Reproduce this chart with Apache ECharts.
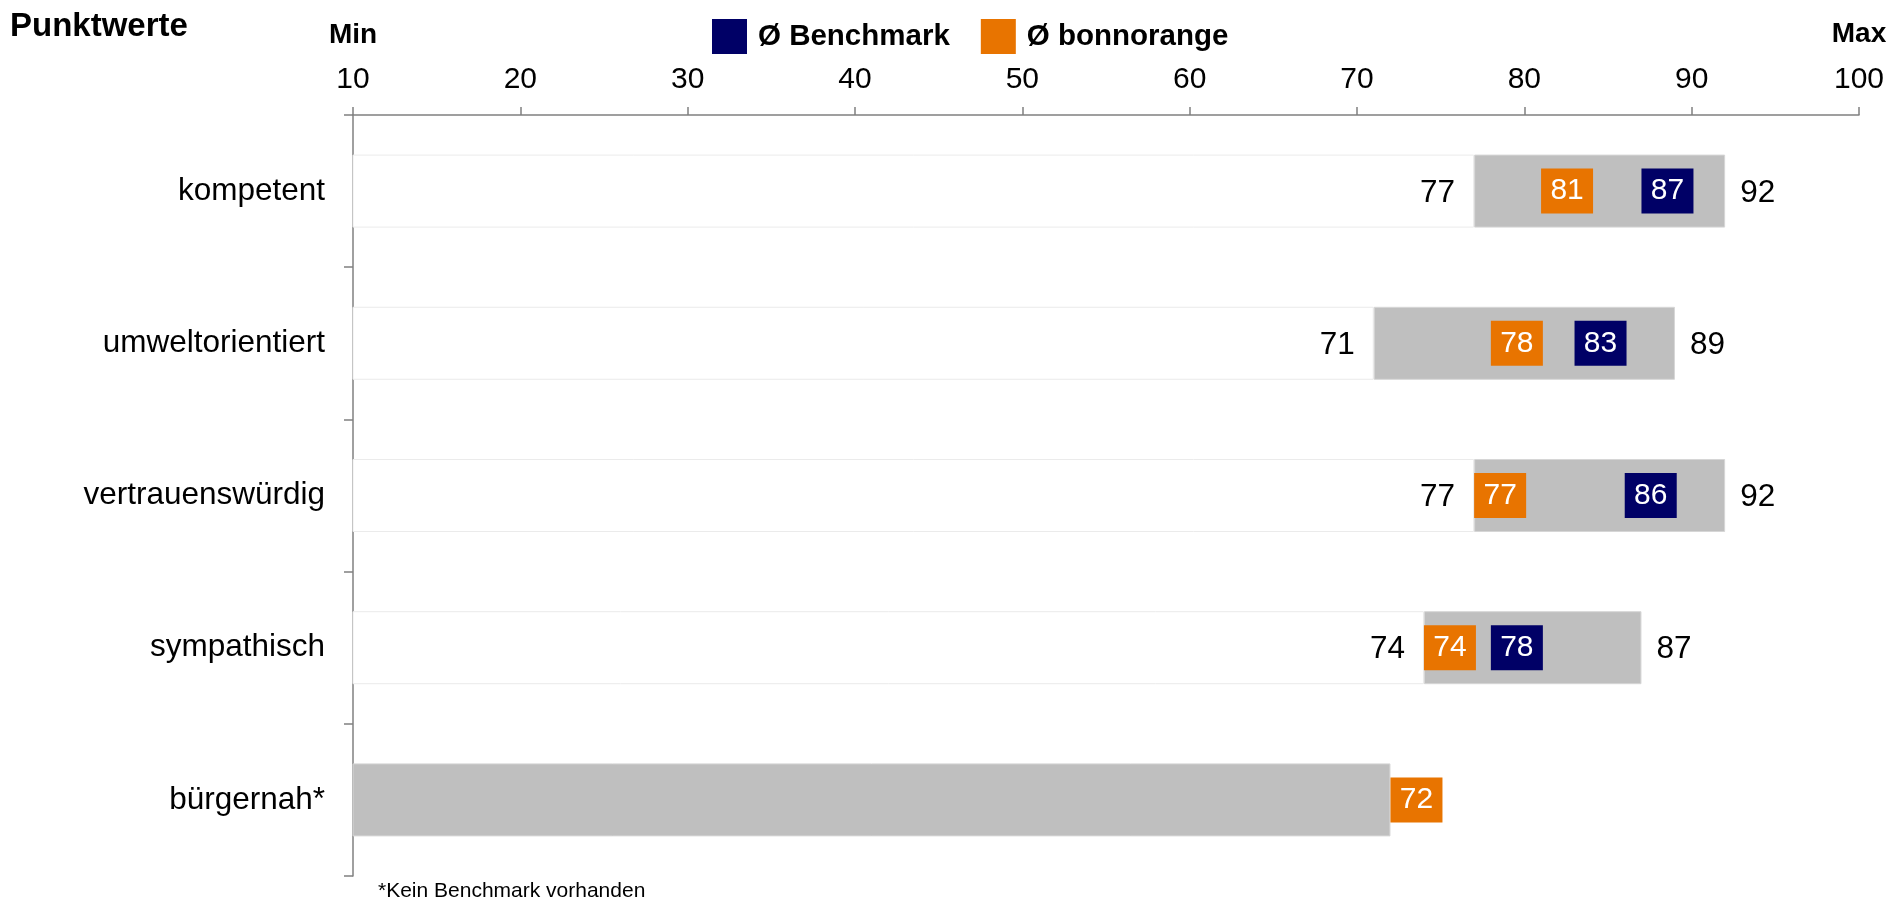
<!DOCTYPE html>
<html>
<head>
<meta charset="utf-8">
<title>Punktwerte</title>
<script src="https://cdn.jsdelivr.net/npm/echarts@6/dist/echarts.min.js"></script>
<style>
  html, body { margin: 0; padding: 0; background: #ffffff; }
  #chart { width: 1903px; height: 902px; }
</style>
</head>
<body>
<div id="chart"></div>
<script>
// Image attributes and their scores
const categories = ['kompetent', 'umweltorientiert', 'vertrauenswürdig', 'sympathisch', 'bürgernah*'];
const rangeMin = [77, 71, 77, 74, null];      // lower end of the grey range
const rangeMax = [92, 89, 92, 87, 72];        // upper end of the grey range
const benchmark = [87, 83, 86, 78, null];     // Ø Benchmark
const bonnorange = [81, 78, 77, 74, 72];      // Ø bonnorange
const xTicks = { min: 10, max: 100, interval: 10 };

const FONT = "'Liberation Sans', Arial, sans-serif";
const NAVY = '#000066';
const ORANGE = '#e87400';
const GREY = '#bfbfbf';
const AXIS = '#808080';

const chart = echarts.init(document.getElementById('chart'), null, { renderer: 'canvas' });

const baseData = rangeMin.map(v => (v == null ? '-' : v));
const spanData = rangeMax.map((v, i) => v - (rangeMin[i] == null ? 0 : rangeMin[i]));

function pointData(values) {
  const out = [];
  values.forEach((v, i) => { if (v != null) out.push([v, categories[i]]); });
  return out;
}

const markerStyle = (color) => ({
  type: 'scatter',
  symbol: 'rect',
  symbolSize: [52, 45],
  symbolOffset: [26, 0],   // box starts at the value and extends to the right
  itemStyle: { color: color, opacity: 1 },
  z: 5,
  label: {
    show: true,
    position: 'inside',
    color: '#ffffff',
    fontFamily: FONT,
    fontSize: 30,
    formatter: p => p.value[0]
  },
  emphasis: { disabled: true }
});

chart.setOption({
  animation: false,
  backgroundColor: '#ffffff',
  textStyle: { fontFamily: FONT },
  grid: { left: 353, right: 44, top: 115, bottom: 26, containLabel: false },
  legend: {
    left: 707,
    top: 14,
    itemWidth: 35,
    itemHeight: 35,
    itemGap: 31,
    icon: 'rect',
    selectedMode: false,
    data: ['Ø Benchmark', 'Ø bonnorange'],
    textStyle: {
      fontFamily: FONT,
      fontSize: 29.5,
      fontWeight: 'bold',
      color: '#000000',
      padding: [0, 0, 0, 6]
    }
  },
  graphic: [
    { type: 'text', left: 10, top: 10,
      style: { text: 'Punktwerte', font: "bold 33px 'Liberation Sans', Arial, sans-serif", fill: '#000' } },
    { type: 'text', x: 353, y: 35,
      style: { text: 'Min', font: "bold 28px 'Liberation Sans', Arial, sans-serif", fill: '#000',
               align: 'center', verticalAlign: 'middle' } },
    { type: 'text', x: 1859, y: 34,
      style: { text: 'Max', font: "bold 28px 'Liberation Sans', Arial, sans-serif", fill: '#000',
               align: 'center', verticalAlign: 'middle' } },
    { type: 'text', x: 378, y: 891,
      style: { text: '*Kein Benchmark vorhanden', font: "21px 'Liberation Sans', Arial, sans-serif", fill: '#000',
               align: 'left', verticalAlign: 'middle' } }
  ],
  xAxis: {
    type: 'value',
    position: 'top',
    min: xTicks.min,
    max: xTicks.max,
    interval: xTicks.interval,
    axisLine: { show: true, lineStyle: { color: AXIS, width: 1.5 } },
    axisTick: { show: true, length: 8, lineStyle: { color: AXIS, width: 1.5 } },
    axisLabel: { color: '#000', fontFamily: FONT, fontSize: 30, margin: 20 },
    splitLine: { show: false }
  },
  yAxis: {
    type: 'category',
    inverse: true,
    data: categories,
    axisLine: { show: true, lineStyle: { color: AXIS, width: 1.5 } },
    axisTick: { show: true, length: 9, lineStyle: { color: AXIS, width: 1.5 } },
    axisLabel: { color: '#000', fontFamily: FONT, fontSize: 31.5, margin: 28, padding: [5, 0, 0, 0] }
  },
  series: [
    {
      name: 'base',
      type: 'bar',
      stack: 'range',
      clip: true,
      barWidth: 73,
      data: baseData,
      itemStyle: { color: '#ffffff', borderColor: '#ebebeb', borderWidth: 1 },
      label: {
        show: true,
        position: 'insideRight',
        distance: 19,
        offset: [0, 2],
        color: '#000',
        fontFamily: FONT,
        fontSize: 31.5,
        formatter: p => (rangeMin[p.dataIndex] == null ? '' : rangeMin[p.dataIndex])
      },
      emphasis: { disabled: true },
      z: 2
    },
    {
      name: 'range',
      type: 'bar',
      stack: 'range',
      clip: true,
      barWidth: 73,
      data: spanData,
      itemStyle: { color: GREY, borderColor: '#d6d6d6', borderWidth: 1 },
      label: {
        show: true,
        position: 'right',
        distance: 15,
        offset: [0, 2],
        color: '#000',
        fontFamily: FONT,
        fontSize: 31.5,
        formatter: p => (rangeMin[p.dataIndex] == null ? '' : rangeMax[p.dataIndex])
      },
      emphasis: { disabled: true },
      z: 2
    },
    Object.assign({ name: 'Ø Benchmark', data: pointData(benchmark) }, markerStyle(NAVY)),
    Object.assign({ name: 'Ø bonnorange', data: pointData(bonnorange) }, markerStyle(ORANGE))
  ]
});
</script>
</body>
</html>
